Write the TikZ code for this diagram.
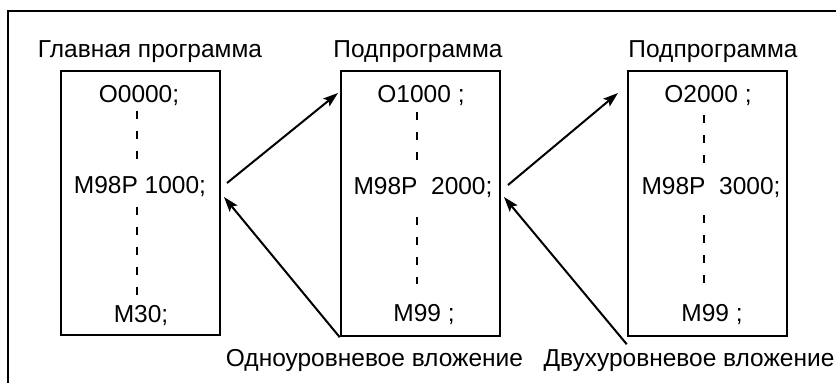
\documentclass[tikz,border=0pt]{standalone}
\usepackage{fontspec}
\setmainfont{Liberation Sans}
\usetikzlibrary{arrows.meta}
\begin{document}
\begin{tikzpicture}[x=1pt,y=-1pt,
  lbl/.style={anchor=base,inner sep=0pt,font=\fontsize{24.5}{28}\selectfont},
  prog/.style={draw,line width=2.5pt,inner sep=0pt},
  dots/.style={line width=2.6pt,dash pattern=on 8pt off 12pt},
  conn/.style={line width=2pt,-{Stealth[length=15pt,width=10pt,inset=3pt]}},
  frame/.style={line width=1.6pt}]
\useasboundingbox (0,0) rectangle (836,383);
\draw[frame] (8,400) -- (8,11) -- (850,11);
% boxes
\node[prog,minimum width=159pt,minimum height=264pt] (b1) at (140.5,203) {};
\node[prog,minimum width=159pt,minimum height=265pt] (b2) at (420.5,203.5) {};
\node[prog,minimum width=159pt,minimum height=265pt] (b3) at (707.5,203.5) {};
% titles
\node[lbl] (t1) at (150,57) {Главная программа};
\node[lbl] (t2) at (418,57) {Подпрограмма};
\node[lbl] (t3) at (713,57) {Подпрограмма};
% box 1
\node[lbl] (o1) at (139,102) {O0000;};
\node[lbl] (m1) at (140,193) {M98P 1000;};
\node[lbl] (e1) at (141,322) {M30;};
% box 2
\node[lbl] (o2) at (421,102) {O1000 ;};
\node[lbl] (m2) at (423,194) {M98P\ \ 2000;};
\node[lbl] (e2) at (424,321) {M99 ;};
% box 3
\node[lbl] (o3) at (708,102) {O2000 ;};
\node[lbl] (m3) at (711,194) {M98P\ \ 3000;};
\node[lbl] (e3) at (712,321) {M99 ;};
% dashed continuation lines
\draw[dots] (137,111) -- (137,165);
\draw[dots] (137,207) -- (137,299);
\draw[dots] (417,112) -- (417,165);
\draw[dots] (417,217) -- (417,284);
\draw[dots] (704,115) -- (704,165);
\draw[dots] (704,215) -- (704,292);
% nesting labels
\node[lbl] (n1) at (374.5,366) {Одноуровневое вложение};
\node[lbl] (n2) at (689,366) {Двухуровневое вложение};
% connectors
\coordinate (s1) at (227,183);
\coordinate (d1) at (338,93);
\coordinate (r1) at (224,197);
\coordinate (s2) at (508,185);
\coordinate (d2) at (618,93);
\coordinate (r2) at (504,197);
\draw[conn] (s1) -- (d1);
\draw[conn] (b2.south west) -- (r1);
\draw[conn] (s2) -- (d2);
\draw[conn] ([yshift=-7pt]b3.south west) -- (r2);
\end{tikzpicture}
\end{document}
